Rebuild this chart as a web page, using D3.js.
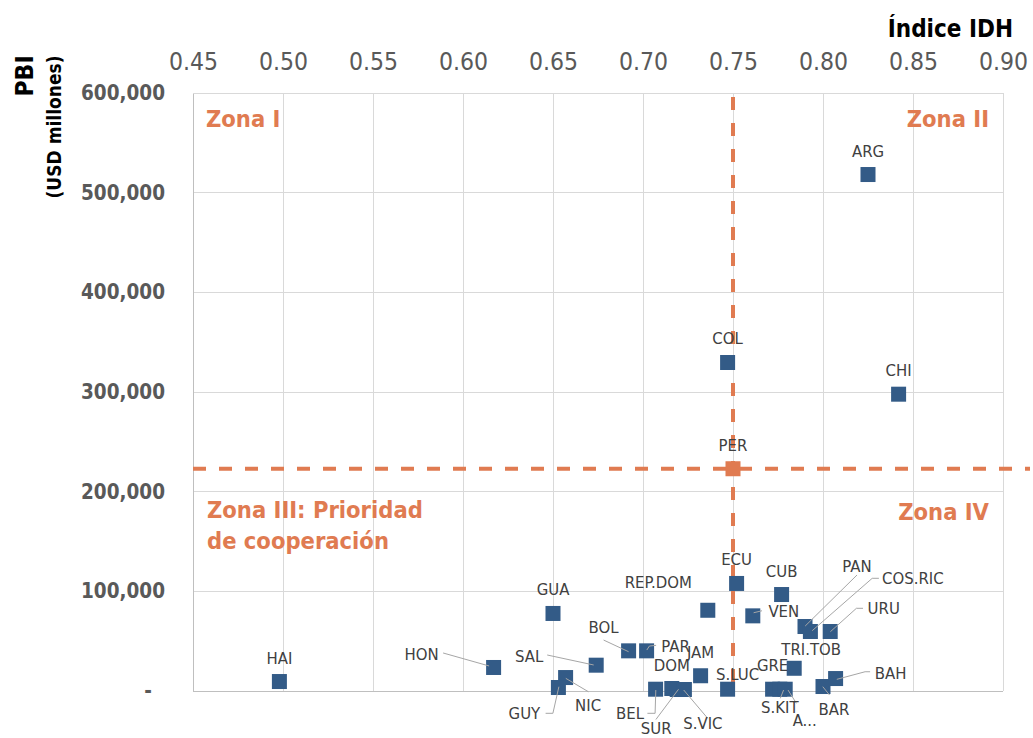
<!DOCTYPE html>
<html>
<head>
<meta charset="utf-8">
<script src="https://cdn.jsdelivr.net/npm/d3@7"></script>
<style>
  html, body { margin: 0; padding: 0; background: #ffffff; }
  svg { display: block; }
  text { font-family: "DejaVu Sans Condensed", "DejaVu Sans", sans-serif; font-stretch: condensed; }
</style>
</head>
<body>
<svg id="chart" width="1033" height="738"></svg>
<script>
// Países: IDH (eje X, arriba) y PBI en millones de USD (eje Y)
const countries = ["HAI", "HON", "GUA", "NIC", "GUY", "SAL", "BOL", "PAR", "BEL", "DOM",
  "SUR", "S.VIC", "JAM", "REP.DOM", "S.LUC", "COL", "PER", "ECU", "VEN", "GRE",
  "CUB", "S.KIT", "A...", "TRI.TOB", "PAN", "COS.RIC", "URU", "BAR", "BAH", "ARG", "CHI"];
const idh = [0.498, 0.617, 0.650, 0.657, 0.653, 0.674, 0.692, 0.702, 0.707, 0.716,
  0.719, 0.723, 0.732, 0.736, 0.747, 0.747, 0.750, 0.752, 0.761, 0.772,
  0.777, 0.776, 0.779, 0.784, 0.790, 0.793, 0.804, 0.800, 0.807, 0.825, 0.842];
const pbi = [9500, 23600, 77800, 13500, 3500, 25900, 40300, 40300, 1800, 2500,
  1500, 1500, 15300, 81000, 1800, 329600, 223000, 107900, 75400, 1800,
  96800, 1800, 1800, 22800, 64700, 59700, 59700, 4500, 12500, 518200, 297800];
const xTicks = [0.45, 0.50, 0.55, 0.60, 0.65, 0.70, 0.75, 0.80, 0.85, 0.90];
const yTicks = [0, 100000, 200000, 300000, 400000, 500000, 600000];
const highlight = "PER";
// Umbrales que separan las zonas
const idhThreshold = 0.75;
const pbiThreshold = 223000;

// Posición de cada etiqueta respecto a su marcador (dx, dy de la línea base) y guías
const labelLayout = {
  "HON":     { dx: -72, dy: -7.5, leader: [[-50.5, -14.5], [-4.5, -1.5]] },
  "SAL":     { dx: -67, dy: -3, leader: [[-49, -10.2], [-2.5, -0.2]] },
  "BOL":     { dx: -25, dy: -18, leader: [[-25, -10.8], [0, 0.9]] },
  "PAR":     { dx: 29, dy: 1.5, leader: [[0.2, -0.8], [2.8, -4.8], [9.5, -5.5]] },
  "NIC":     { dx: 22.5, dy: 33, leader: [[0.2, 0.8], [22.8, 14.2]] },
  "GUY":     { dx: -34, dy: 31.5, leader: [[-12.8, 25.8], [-5.5, 25.8], [0.5, -0.8]] },
  "BEL":     { dx: -25.5, dy: 30, leader: [[-8.2, 24.1], [-0.5, 24.1], [0.2, 0.8]] },
  "SUR":     { dx: -21, dy: 44, leader: [[-21.3, 30], [1.3, -0.2]] },
  "S.VIC":   { dx: 18.5, dy: 39, leader: [[23.3, 28.8], [-0.7, 0.5]] },
  "REP.DOM": { dx: -49.5, dy: -22.5 },
  "S.LUC":   { dx: 10, dy: -9 },
  "VEN":     { dx: 31, dy: 1.5, leader: [[0.8, -3.1], [9.2, -5.1]] },
  "PAN":     { dx: 52, dy: -55, leader: [[52, -51.5], [0.2, -0.5]] },
  "COS.RIC": { dx: 102.5, dy: -47.5, leader: [[68.5, -53.2], [61.8, -53.2], [1.8, -0.8]] },
  "URU":     { dx: 53.5, dy: -17.5, leader: [[32.8, -23.2], [26.2, -23.2], [0.2, 0.2]] },
  "TRI.TOB": { dx: 17, dy: -13 },
  "S.KIT":   { dx: 0, dy: 23.5, leader: [[0.5, 9.1], [3.8, 0.8]] },
  "A...":    { dx: 19.5, dy: 37, leader: [[11.2, 14.1], [2.8, 0.8]] },
  "BAR":     { dx: 11, dy: 28.5, leader: [[6.5, 8.5], [-0.2, 0.2]] },
  "BAH":     { dx: 55, dy: 0, leader: [[34.5, -6.8], [29.5, -6.8], [1.2, 0.8]] }
};
const defaultLabel = { dx: 0, dy: -18 };

const blue = "#335b87";
const orange = "#e07b51";
const grid = "#d9d9d9";
const tickGray = "#595959";

const margin = { top: 93, right: 30, bottom: 47, left: 193 };
const plotW = 810, plotH = 598;

const svg = d3.select("#chart");
const g = svg.append("g").attr("transform", `translate(${margin.left},${margin.top})`);

const x = d3.scaleLinear().domain([0.45, 0.90]).range([0, plotW]);
const y = d3.scaleLinear().domain([0, 600000]).range([plotH, 0]);

// Cuadrícula
g.append("g").selectAll("line").data(xTicks).join("line")
  .attr("x1", d => x(d)).attr("x2", d => x(d))
  .attr("y1", 0).attr("y2", plotH)
  .attr("stroke", grid).attr("stroke-width", 1).attr("shape-rendering", "crispEdges");
g.append("g").selectAll("line").data(yTicks).join("line")
  .attr("x1", 0).attr("x2", plotW)
  .attr("y1", d => y(d)).attr("y2", d => y(d))
  .attr("stroke", d => d === 0 ? "#bfbfbf" : grid).attr("stroke-width", 1)
  .attr("shape-rendering", "crispEdges");

// Eje X (arriba)
const xAxis = g.append("g")
  .call(d3.axisTop(x).tickValues(xTicks).tickFormat(d3.format(".2f")).tickSize(0).tickPadding(23));
xAxis.select(".domain").remove();
xAxis.selectAll("text").attr("fill", tickGray).style("font-size", "24.5px");

// Eje Y (izquierda)
const yAxis = g.append("g")
  .call(d3.axisLeft(y).tickValues(yTicks)
    .tickFormat(d => d === 0 ? "-" : d3.format(",")(d)).tickSize(0).tickPadding(28));
yAxis.select(".domain").attr("stroke", "#bfbfbf").attr("shape-rendering", "crispEdges");
yAxis.selectAll("text").attr("fill", tickGray)
  .style("font-size", "20.5px").style("font-weight", "bold")
  .filter(d => d === 0).attr("x", -41);

// Títulos de ejes
svg.append("text").attr("x", 1013).attr("y", 37).attr("text-anchor", "end")
  .style("font-size", "24px").style("font-weight", "bold").attr("fill", "#000")
  .text("Índice IDH");
svg.append("text").attr("transform", "translate(33,76) rotate(-90)").attr("text-anchor", "middle")
  .style("font-size", "24.5px").style("font-weight", "bold").attr("fill", "#000")
  .text("PBI");
svg.append("text").attr("transform", "translate(61,127) rotate(-90)").attr("text-anchor", "middle")
  .style("font-size", "19px").style("font-weight", "bold").attr("fill", "#000")
  .text("(USD millones)");

// Líneas de umbral
g.append("line")
  .attr("x1", x(idhThreshold)).attr("x2", x(idhThreshold))
  .attr("y1", 4).attr("y2", plotH)
  .attr("stroke", orange).attr("stroke-width", 4).attr("stroke-dasharray", "13,13");
g.append("line")
  .attr("x1", 0).attr("x2", 837)
  .attr("y1", y(pbiThreshold)).attr("y2", y(pbiThreshold))
  .attr("stroke", orange).attr("stroke-width", 4).attr("stroke-dasharray", "13,13");

// Rótulos de zonas
const zoneStyle = sel => sel.style("font-size", "23.5px").style("font-weight", "bold").attr("fill", orange);
g.append("text").attr("x", 13).attr("y", 34).text("Zona I").call(zoneStyle);
g.append("text").attr("x", 796).attr("y", 34).attr("text-anchor", "end").text("Zona II").call(zoneStyle);
g.append("text").attr("x", 14).attr("y", 425).text("Zona III: Prioridad").call(zoneStyle);
g.append("text").attr("x", 14).attr("y", 456).text("de cooperación").call(zoneStyle);
g.append("text").attr("x", 796).attr("y", 427).attr("text-anchor", "end").text("Zona IV").call(zoneStyle);

// Puntos
const data = countries.map((c, i) => ({ name: c, idh: idh[i], pbi: pbi[i] }));
const size = 15;
g.append("g").selectAll("rect").data(data).join("rect")
  .attr("x", d => x(d.idh) - size / 2).attr("y", d => y(d.pbi) - size / 2)
  .attr("width", size).attr("height", size)
  .attr("fill", d => d.name === highlight ? orange : blue);

// Guías de etiquetas
const lineGen = d3.line();
g.append("g").selectAll("path").data(data.filter(d => labelLayout[d.name] && labelLayout[d.name].leader))
  .join("path")
  .attr("d", d => lineGen(labelLayout[d.name].leader.map(p => [x(d.idh) + p[0], y(d.pbi) + p[1]])))
  .attr("fill", "none").attr("stroke", "#a6a6a6").attr("stroke-width", 1);

// Etiquetas
g.append("g").selectAll("text").data(data).join("text")
  .attr("x", d => x(d.idh) + (labelLayout[d.name] || defaultLabel).dx)
  .attr("y", d => y(d.pbi) + (labelLayout[d.name] || defaultLabel).dy)
  .attr("text-anchor", "middle")
  .style("font-size", "16.6px").attr("fill", "#404040")
  .text(d => d.name);
</script>
</body>
</html>
